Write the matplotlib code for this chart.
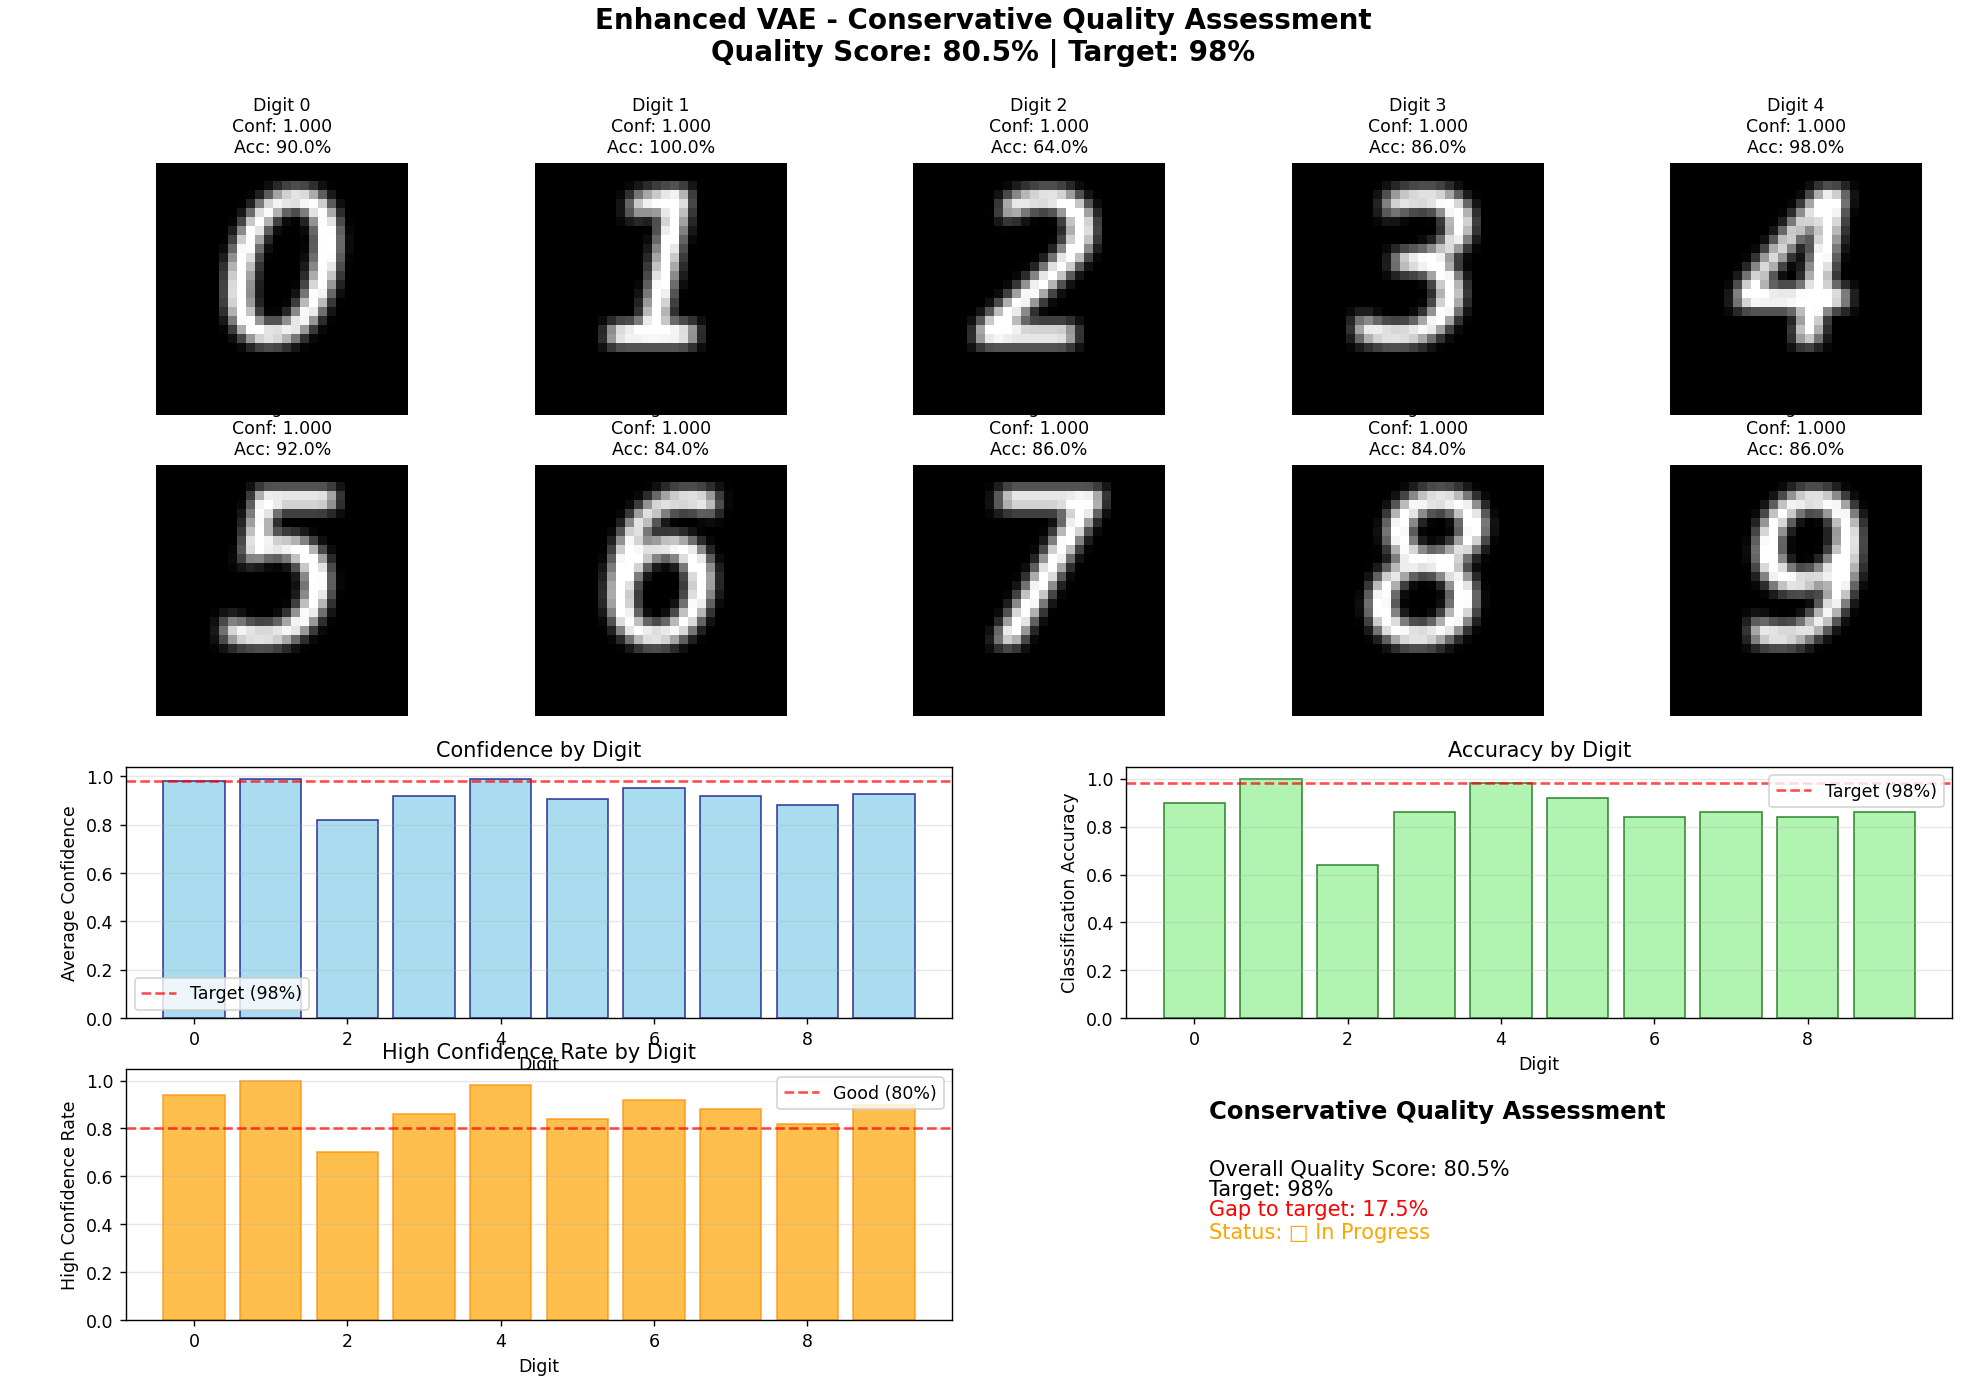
import numpy as np
import matplotlib
matplotlib.use('Agg')
import matplotlib.pyplot as plt
from matplotlib.backends.backend_agg import FigureCanvasAgg

digits = list(range(10))
confidence = [0.98, 0.99, 0.82, 0.92, 0.99, 0.905, 0.95, 0.92, 0.88, 0.925]
accuracy = [0.90, 1.00, 0.64, 0.86, 0.98, 0.92, 0.84, 0.86, 0.84, 0.86]
high_conf = [0.94, 1.00, 0.70, 0.86, 0.98, 0.84, 0.92, 0.88, 0.82, 0.90]
sample_conf = [1.0] * 10
quality_score = 80.5
target = 98


def digit_image(d):
  # rasterise the glyph small and blur it, to look like a VAE sample
  f = plt.figure(figsize=(1, 1), dpi=28)
  c = FigureCanvasAgg(f)
  f.patch.set_facecolor('black')
  f.text(0.5, 0.5, str(d), color='white', fontsize=58, ha='center', va='center',
         style='italic')
  c.draw()
  img = np.asarray(c.buffer_rgba())[:, :, 0].astype(float) / 255.
  plt.close(f)
  k = np.array([1, 2, 1]) / 4.
  img = np.apply_along_axis(lambda r: np.convolve(r, k, mode='same'), 0, img)
  img = np.apply_along_axis(lambda r: np.convolve(r, k, mode='same'), 1, img)
  return np.clip(img * 1.3, 0, 1)


fig = plt.figure(figsize=(15.73, 11.18), dpi=125)
fig.suptitle('Enhanced VAE - Conservative Quality Assessment\nQuality Score: %.1f%% | Target: %d%%'
             % (quality_score, target), fontsize=16, fontweight='bold', y=0.995)

for d in digits:
  ax = plt.subplot(4, 5, d + 1)
  ax.imshow(digit_image(d), cmap='gray', vmin=0, vmax=1)
  ax.set_title('Digit %d\nConf: %.3f\nAcc: %.1f%%' % (d, sample_conf[d], accuracy[d] * 100), fontsize=10)
  ax.axis('off')
  if d < 5:
    ax.set_zorder(2)

ax = plt.subplot(4, 2, 5)
ax.bar(digits, confidence, color='skyblue', edgecolor='navy', alpha=0.7)
ax.axhline(0.98, color='red', linestyle='--', alpha=0.7, label='Target (98%)')
ax.set_title('Confidence by Digit')
ax.set_xlabel('Digit')
ax.set_ylabel('Average Confidence')
ax.legend()
ax.grid(True, alpha=0.3, axis='y')

ax = plt.subplot(4, 2, 6)
ax.bar(digits, accuracy, color='lightgreen', edgecolor='darkgreen', alpha=0.7)
ax.axhline(0.98, color='red', linestyle='--', alpha=0.7, label='Target (98%)')
ax.set_title('Accuracy by Digit')
ax.set_xlabel('Digit')
ax.set_ylabel('Classification Accuracy')
ax.legend()
ax.grid(True, alpha=0.3, axis='y')

ax = plt.subplot(4, 2, 7)
ax.bar(digits, high_conf, color='orange', edgecolor='darkorange', alpha=0.7)
ax.axhline(0.8, color='red', linestyle='--', alpha=0.7, label='Good (80%)')
ax.set_title('High Confidence Rate by Digit')
ax.set_xlabel('Digit')
ax.set_ylabel('High Confidence Rate')
ax.legend()
ax.grid(True, alpha=0.3, axis='y')

ax = plt.subplot(4, 2, 8)
ax.axis('off')
ax.text(0.1, 0.8, 'Conservative Quality Assessment', fontsize=14, fontweight='bold', transform=ax.transAxes)
ax.text(0.1, 0.64, 'Overall Quality Score: %.1f%%\nTarget: %d%%' % (quality_score, target),
        fontsize=12, transform=ax.transAxes, va='top', linespacing=1.0)
ax.text(0.1, 0.48, 'Gap to target: %.1f%%' % (target - quality_score), fontsize=12, color='red',
        transform=ax.transAxes, va='top')
ax.text(0.1, 0.39, 'Status: \u25a1 In Progress', fontsize=12, color='orange',
        transform=ax.transAxes, va='top')

plt.subplots_adjust(left=0.064, right=0.993, top=0.883, bottom=0.055, wspace=0.21, hspace=0.2)
fig.savefig('out.png', dpi=125)
